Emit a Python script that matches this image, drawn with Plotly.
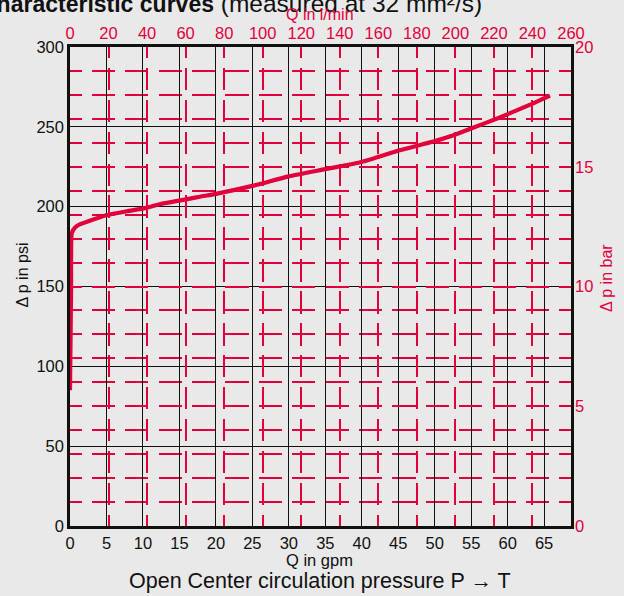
import plotly.graph_objects as go

# Characteristic curve: open-centre circulation pressure P -> T
flow_gpm = [0.0, 0.15, 0.25, 0.7, 1.4, 3.2, 5.0, 7.8, 10.3, 12.3, 17.8, 20.0,
            25.0, 30.0, 35.0, 40.0, 45.2, 49.8, 52.5, 54.8, 59.0, 63.5, 65.8]
dp_psi = [85, 150, 183.5, 187, 189, 192, 194.6, 197.1, 199.1, 201.5, 206.2, 208,
          213, 219, 223.5, 228, 235.3, 240.8, 244.6, 248.6, 256, 264.7, 269.5]

# Axis scales
gpm_ticks = list(range(0, 70, 5))
psi_ticks = list(range(0, 301, 50))
lpm_ticks = list(range(0, 261, 20))
bar_ticks = list(range(0, 21, 5))
LPM_MAX = 260
GPM_MAX = LPM_MAX / 3.785411784
PSI_MAX = 300
BAR_MAX = 20

RED = "#e2003c"
INK = "#111111"
BG = "#e9e9e9"
FONT = "Liberation Sans, Arial, Helvetica, sans-serif"

W, H = 624, 596
ML, MR, MT, MB = 70, 53, 47, 70
PW, PH = W - ML - MR, H - MT - MB


def dash_pattern(length, periods, ratio):
    """Dash list with a half dash at each end of a grid line."""
    p = length / periods
    d = p * ratio
    g = p - d
    parts = [f"{d/2:.2f}px", f"{g:.2f}px"]
    for _ in range(periods - 1):
        parts += [f"{d:.2f}px", f"{g:.2f}px"]
    parts += [f"{d/2:.2f}px", "200px"]
    return ",".join(parts)


h_dash = dash_pattern(PW, 15, 0.70)
v_dash = dash_pattern(PH, 15, 0.70)

fig = go.Figure()
fig.add_trace(go.Scatter(x=flow_gpm, y=dp_psi, mode="lines",
                         line=dict(color=RED, width=4.2, shape="spline",
                                   smoothing=0.5),
                         xaxis="x", yaxis="y", hoverinfo="skip",
                         showlegend=False))
# empty trace so the l/min and bar axes get their own subplot
fig.add_trace(go.Scatter(x=[], y=[], xaxis="x2", yaxis="y2",
                         showlegend=False, hoverinfo="skip"))

TICK = 16.5
fig.update_layout(
    width=W, height=H,
    margin=dict(l=ML, r=MR, t=MT, b=MB, pad=0),
    paper_bgcolor=BG, plot_bgcolor=BG,
    font=dict(family=FONT, color=INK, size=15),
    showlegend=False,
    xaxis=dict(range=[0, GPM_MAX], tickvals=gpm_ticks, showgrid=True,
               gridcolor=INK, gridwidth=1.2, zeroline=False,
               showline=True, linecolor=INK, linewidth=3, mirror=True,
               ticks="", tickfont=dict(size=TICK, color=INK),
               layer="below traces"),
    yaxis=dict(range=[0, PSI_MAX], tickvals=psi_ticks, showgrid=True,
               gridcolor=INK, gridwidth=1.2, zeroline=False,
               showline=True, linecolor=INK, linewidth=2.5, mirror=True,
               ticks="", tickfont=dict(size=TICK, color=INK),
               layer="below traces"),
    xaxis2=dict(range=[0, LPM_MAX], tickvals=lpm_ticks, overlaying="x",
                side="top", anchor="y", showgrid=True, gridcolor=RED,
                gridwidth=1.5, griddash=v_dash, zeroline=False,
                showline=False, ticks="", ticklabelstandoff=4,
                tickfont=dict(size=TICK, color=RED), layer="below traces"),
    yaxis2=dict(range=[0, BAR_MAX], tickvals=bar_ticks, overlaying="y",
                side="right", anchor="x", showgrid=True, gridcolor=RED,
                gridwidth=1.5, griddash=h_dash, zeroline=False,
                showline=False, ticks="", ticklabelstandoff=3,
                tickfont=dict(size=TICK, color=RED),
                minor=dict(dtick=1, showgrid=True, gridcolor=RED,
                           gridwidth=1.5, griddash=h_dash),
                layer="below traces"),
)


def px_x(px):
    return (px - ML) / PW


def px_y(py):
    return (H - MB - py) / PH


annotations = [
    dict(text=("<span style='font-size:23px'><b>Characteristic curves</b>"
               "</span> (measured at 32 mm²/s)"),
         x=px_x(484), y=px_y(3.5), xanchor="right", yanchor="middle",
         font=dict(size=24.5, color=INK)),
    dict(text="Q in l/min", x=px_x(320), y=px_y(14), xanchor="center",
         yanchor="middle", font=dict(size=16, color=RED)),
    dict(text="Q in gpm", x=px_x(319), y=px_y(560), xanchor="center",
         yanchor="middle", font=dict(size=16.5, color=INK)),
    dict(text="Open Center circulation pressure P \u2192 T", x=px_x(320),
         y=px_y(581), xanchor="center", yanchor="middle",
         font=dict(size=21.5, color=INK)),
    dict(text="\u0394 p in psi", x=px_x(21.5), y=px_y(275), xanchor="center",
         yanchor="middle", textangle=-90, font=dict(size=16, color=INK)),
    dict(text="\u0394 p in bar", x=px_x(606), y=px_y(278), xanchor="center",
         yanchor="middle", textangle=-90, font=dict(size=16, color=RED)),
]
for a in annotations:
    a.update(xref="paper", yref="paper", showarrow=False)
fig.update_layout(annotations=annotations)

fig.write_html("out.html")
